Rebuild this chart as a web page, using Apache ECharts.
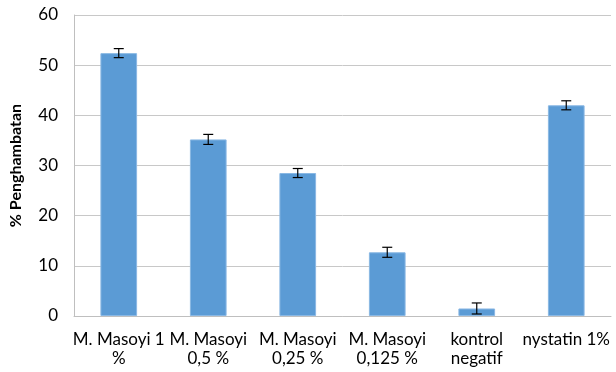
<!DOCTYPE html>
<html>
<head>
<meta charset="utf-8">
<script src="https://cdn.jsdelivr.net/npm/echarts@6/dist/echarts.min.js"></script>
<style>
  html, body { margin: 0; padding: 0; background: #fff; }
  #chart { width: 616px; height: 372px; }
</style>
</head>
<body>
<div id="chart"></div>
<script>
const categories = [
  "M. Masoyi 1\n%",
  "M. Masoyi\n0,5 %",
  "M. Masoyi\n0,25 %",
  "M. Masoyi\n0,125 %",
  "kontrol\nnegatif",
  "nystatin 1%"
];
const values = [52.4, 35.2, 28.5, 12.7, 1.5, 42.0];
const errors = [0.9, 1.0, 0.9, 1.0, 1.1, 0.9];

const chart = echarts.init(document.getElementById("chart"));
const font = "Lato, 'Open Sans', sans-serif";

chart.setOption({
  animation: false,
  grid: { left: 71, right: 5, top: 15, bottom: 56 },
  xAxis: {
    type: "category",
    data: categories,
    axisLine: { lineStyle: { color: "#bfbfbf", width: 1 } },
    axisTick: { show: false },
    axisLabel: {
      interval: 0,
      color: "#000",
      fontFamily: font,
      fontSize: 17,
      lineHeight: 19,
      margin: 14
    }
  },
  yAxis: {
    type: "value",
    min: 0,
    max: 60,
    interval: 10,
    name: "% Penghambatan",
    nameLocation: "middle",
    nameGap: 50,
    nameTextStyle: { color: "#000", fontFamily: font, fontSize: 16, fontWeight: "bold" },
    axisLine: { show: true, lineStyle: { color: "#bfbfbf" } },
    axisTick: { show: false },
    splitLine: { lineStyle: { color: "#c8c8c8" } },
    axisLabel: { color: "#000", fontFamily: font, fontSize: 17, margin: 16 }
  },
  series: [
    {
      type: "bar",
      data: values,
      barWidth: "41%",
      itemStyle: { color: "#5b9bd5", borderColor: "#8ab8e4", borderWidth: 1 }
    },
    {
      type: "custom",
      data: values.map((v, i) => [i, v - errors[i], v + errors[i]]),
      z: 10,
      renderItem: function (params, api) {
        const lo = api.coord([api.value(0), api.value(1)]);
        const hi = api.coord([api.value(0), api.value(2)]);
        const w = 5;
        const style = { stroke: "#000", lineWidth: 1.2 };
        return {
          type: "group",
          children: [
            { type: "line", shape: { x1: hi[0], y1: hi[1], x2: lo[0], y2: lo[1] }, style: style },
            { type: "line", shape: { x1: hi[0] - w, y1: hi[1], x2: hi[0] + w, y2: hi[1] }, style: style },
            { type: "line", shape: { x1: lo[0] - w, y1: lo[1], x2: lo[0] + w, y2: lo[1] }, style: style }
          ]
        };
      }
    }
  ]
});
</script>
</body>
</html>
